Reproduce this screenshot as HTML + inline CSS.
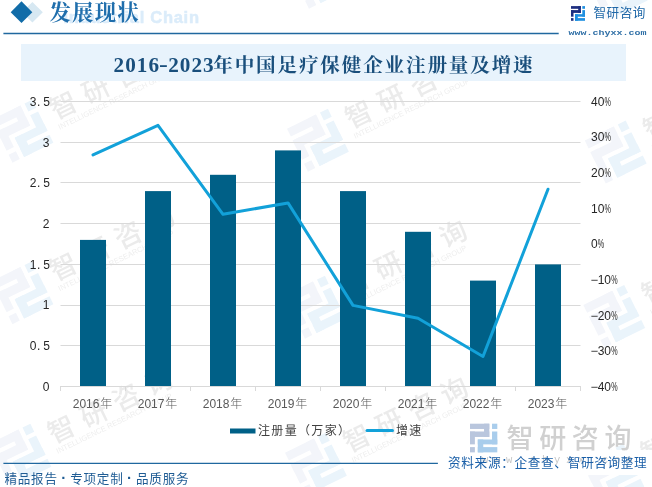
<!DOCTYPE html>
<html lang="zh-CN"><head><meta charset="utf-8"><title>2016-2023年中国足疗保健企业注册量及增速</title>
<style>
html,body{margin:0;padding:0;background:#fff}
body{width:652px;height:487px;position:relative;overflow:hidden;font-family:"Liberation Sans","Noto Sans CJK SC",sans-serif}
.abs{position:absolute;white-space:nowrap}
.band{left:21px;top:44px;width:605px;height:36.5px;background:#e8f3fc}
.hline{left:3px;top:32px;width:556px;height:2px;background:#2a70a8}
.fline{left:3px;top:462.5px;width:434px;height:1.6px;background:#2a70a8}
.h1{left:49.5px;top:-3.5px;letter-spacing:1.2px;font:bold 21.4px/32px "Liberation Serif","Noto Serif CJK SC",serif;color:#1f6eac}
.ic{left:63.5px;top:6px;letter-spacing:0.72px;-webkit-text-stroke:0.5px #dbecfa;font:bold 16.5px/22px "Liberation Sans",sans-serif;color:#dbecfa}
.title{left:113.5px;top:48px;font:600 21.2px/34px "Liberation Serif","Noto Serif CJK SC",serif;color:#1a4f7c}
.title .n{letter-spacing:1.05px;font-weight:bold}
.title .n b{position:relative;top:-1.5px;display:inline-block;transform:scaleX(1.25)}
.title .c{font-size:19.6px;letter-spacing:1.82px;margin-left:-1.5px;font-weight:bold}
.brand{left:593.5px;top:3.4px;letter-spacing:0.5px;font:12.6px/20px "Liberation Sans","Noto Sans CJK SC",sans-serif;color:#2068a8}
.url{left:568.5px;top:26px;font:bold 10px/14px "Liberation Mono",monospace;color:#2f6fa6;transform:scaleY(0.8);transform-origin:0 10.5px}
.foot{left:4.5px;top:468.6px;letter-spacing:0.7px;font:12.6px/20px "Liberation Sans","Noto Sans CJK SC",sans-serif;color:#1f5c94}
.foot i{display:inline-block;width:12.6px;text-align:center;font-style:normal;font-weight:bold;font-size:15px;line-height:12px}
.src{left:448px;top:453px;letter-spacing:0.7px;font:400 12.6px/20px "Liberation Sans","Noto Sans CJK SC",sans-serif;color:#1a5fa8}
</style></head><body>
<svg width="652" height="487" viewBox="0 0 652 487" style="position:absolute;left:0;top:0">
<g transform="translate(-8.5 119.7) rotate(-26)"><g transform="translate(0.00 0.00) scale(3.250)" ><rect x="0.00" y="0.00" width="9.90" height="2.70" fill="#f3f5fa"/><rect x="7.20" y="0.00" width="2.70" height="6.80" fill="#f3f5fa"/><rect x="0.00" y="4.00" width="9.90" height="2.80" fill="#f3f5fa"/><rect x="0.00" y="4.00" width="2.50" height="6.60" fill="#f3f5fa"/><rect x="0.00" y="12.00" width="2.50" height="2.70" fill="#f3f5fa"/><rect x="11.30" y="0.00" width="2.70" height="2.70" fill="#eaf4fb"/><rect x="11.30" y="4.00" width="2.70" height="6.60" fill="#eaf4fb"/><rect x="4.00" y="8.10" width="10.00" height="2.50" fill="#eaf4fb"/><rect x="4.00" y="8.10" width="2.80" height="6.60" fill="#eaf4fb"/><rect x="4.00" y="12.00" width="10.00" height="2.70" fill="#eaf4fb"/></g><text x="57.5" y="28.3" font-family="'Liberation Sans','Noto Sans CJK SC',sans-serif" font-size="27" font-weight="500" letter-spacing="9" fill="#ebebeb">智研咨询</text><text x="57" y="39" font-family="'Liberation Sans',sans-serif" font-size="7.5" textLength="128" fill="#eeeeee">INTELLIGENCE RESEARCH GROUP</text></g>
<g transform="translate(287.0 128.7) rotate(-26)"><g transform="translate(0.00 0.00) scale(3.250)" ><rect x="0.00" y="0.00" width="9.90" height="2.70" fill="#f3f5fa"/><rect x="7.20" y="0.00" width="2.70" height="6.80" fill="#f3f5fa"/><rect x="0.00" y="4.00" width="9.90" height="2.80" fill="#f3f5fa"/><rect x="0.00" y="4.00" width="2.50" height="6.60" fill="#f3f5fa"/><rect x="0.00" y="12.00" width="2.50" height="2.70" fill="#f3f5fa"/><rect x="11.30" y="0.00" width="2.70" height="2.70" fill="#eaf4fb"/><rect x="11.30" y="4.00" width="2.70" height="6.60" fill="#eaf4fb"/><rect x="4.00" y="8.10" width="10.00" height="2.50" fill="#eaf4fb"/><rect x="4.00" y="8.10" width="2.80" height="6.60" fill="#eaf4fb"/><rect x="4.00" y="12.00" width="10.00" height="2.70" fill="#eaf4fb"/></g><text x="57.5" y="28.3" font-family="'Liberation Sans','Noto Sans CJK SC',sans-serif" font-size="27" font-weight="500" letter-spacing="9" fill="#ebebeb">智研咨询</text><text x="57" y="39" font-family="'Liberation Sans',sans-serif" font-size="7.5" textLength="128" fill="#eeeeee">INTELLIGENCE RESEARCH GROUP</text></g>
<g transform="translate(584.8 140.5) rotate(-26)"><g transform="translate(0.00 0.00) scale(3.250)" ><rect x="0.00" y="0.00" width="9.90" height="2.70" fill="#f3f5fa"/><rect x="7.20" y="0.00" width="2.70" height="6.80" fill="#f3f5fa"/><rect x="0.00" y="4.00" width="9.90" height="2.80" fill="#f3f5fa"/><rect x="0.00" y="4.00" width="2.50" height="6.60" fill="#f3f5fa"/><rect x="0.00" y="12.00" width="2.50" height="2.70" fill="#f3f5fa"/><rect x="11.30" y="0.00" width="2.70" height="2.70" fill="#eaf4fb"/><rect x="11.30" y="4.00" width="2.70" height="6.60" fill="#eaf4fb"/><rect x="4.00" y="8.10" width="10.00" height="2.50" fill="#eaf4fb"/><rect x="4.00" y="8.10" width="2.80" height="6.60" fill="#eaf4fb"/><rect x="4.00" y="12.00" width="10.00" height="2.70" fill="#eaf4fb"/></g><text x="57.5" y="28.3" font-family="'Liberation Sans','Noto Sans CJK SC',sans-serif" font-size="27" font-weight="500" letter-spacing="9" fill="#ebebeb">智研咨询</text><text x="57" y="39" font-family="'Liberation Sans',sans-serif" font-size="7.5" textLength="128" fill="#eeeeee">INTELLIGENCE RESEARCH GROUP</text></g>
<g transform="translate(-8.5 281.2) rotate(-26)"><g transform="translate(0.00 0.00) scale(3.250)" ><rect x="0.00" y="0.00" width="9.90" height="2.70" fill="#f3f5fa"/><rect x="7.20" y="0.00" width="2.70" height="6.80" fill="#f3f5fa"/><rect x="0.00" y="4.00" width="9.90" height="2.80" fill="#f3f5fa"/><rect x="0.00" y="4.00" width="2.50" height="6.60" fill="#f3f5fa"/><rect x="0.00" y="12.00" width="2.50" height="2.70" fill="#f3f5fa"/><rect x="11.30" y="0.00" width="2.70" height="2.70" fill="#eaf4fb"/><rect x="11.30" y="4.00" width="2.70" height="6.60" fill="#eaf4fb"/><rect x="4.00" y="8.10" width="10.00" height="2.50" fill="#eaf4fb"/><rect x="4.00" y="8.10" width="2.80" height="6.60" fill="#eaf4fb"/><rect x="4.00" y="12.00" width="10.00" height="2.70" fill="#eaf4fb"/></g><text x="57.5" y="28.3" font-family="'Liberation Sans','Noto Sans CJK SC',sans-serif" font-size="27" font-weight="500" letter-spacing="9" fill="#ebebeb">智研咨询</text><text x="57" y="39" font-family="'Liberation Sans',sans-serif" font-size="7.5" textLength="128" fill="#eeeeee">INTELLIGENCE RESEARCH GROUP</text></g>
<g transform="translate(284.0 295.7) rotate(-26)"><g transform="translate(0.00 0.00) scale(3.250)" ><rect x="0.00" y="0.00" width="9.90" height="2.70" fill="#f3f5fa"/><rect x="7.20" y="0.00" width="2.70" height="6.80" fill="#f3f5fa"/><rect x="0.00" y="4.00" width="9.90" height="2.80" fill="#f3f5fa"/><rect x="0.00" y="4.00" width="2.50" height="6.60" fill="#f3f5fa"/><rect x="0.00" y="12.00" width="2.50" height="2.70" fill="#f3f5fa"/><rect x="11.30" y="0.00" width="2.70" height="2.70" fill="#eaf4fb"/><rect x="11.30" y="4.00" width="2.70" height="6.60" fill="#eaf4fb"/><rect x="4.00" y="8.10" width="10.00" height="2.50" fill="#eaf4fb"/><rect x="4.00" y="8.10" width="2.80" height="6.60" fill="#eaf4fb"/><rect x="4.00" y="12.00" width="10.00" height="2.70" fill="#eaf4fb"/></g><text x="57.5" y="28.3" font-family="'Liberation Sans','Noto Sans CJK SC',sans-serif" font-size="27" font-weight="500" letter-spacing="9" fill="#ebebeb">智研咨询</text><text x="57" y="39" font-family="'Liberation Sans',sans-serif" font-size="7.5" textLength="128" fill="#eeeeee">INTELLIGENCE RESEARCH GROUP</text></g>
<g transform="translate(583.3 304.9) rotate(-26)"><g transform="translate(0.00 0.00) scale(3.250)" ><rect x="0.00" y="0.00" width="9.90" height="2.70" fill="#f3f5fa"/><rect x="7.20" y="0.00" width="2.70" height="6.80" fill="#f3f5fa"/><rect x="0.00" y="4.00" width="9.90" height="2.80" fill="#f3f5fa"/><rect x="0.00" y="4.00" width="2.50" height="6.60" fill="#f3f5fa"/><rect x="0.00" y="12.00" width="2.50" height="2.70" fill="#f3f5fa"/><rect x="11.30" y="0.00" width="2.70" height="2.70" fill="#eaf4fb"/><rect x="11.30" y="4.00" width="2.70" height="6.60" fill="#eaf4fb"/><rect x="4.00" y="8.10" width="10.00" height="2.50" fill="#eaf4fb"/><rect x="4.00" y="8.10" width="2.80" height="6.60" fill="#eaf4fb"/><rect x="4.00" y="12.00" width="10.00" height="2.70" fill="#eaf4fb"/></g><text x="57.5" y="28.3" font-family="'Liberation Sans','Noto Sans CJK SC',sans-serif" font-size="27" font-weight="500" letter-spacing="9" fill="#ebebeb">智研咨询</text><text x="57" y="39" font-family="'Liberation Sans',sans-serif" font-size="7.5" textLength="128" fill="#eeeeee">INTELLIGENCE RESEARCH GROUP</text></g>
<g transform="translate(-10.5 443.7) rotate(-26)"><g transform="translate(0.00 0.00) scale(3.250)" ><rect x="0.00" y="0.00" width="9.90" height="2.70" fill="#f3f5fa"/><rect x="7.20" y="0.00" width="2.70" height="6.80" fill="#f3f5fa"/><rect x="0.00" y="4.00" width="9.90" height="2.80" fill="#f3f5fa"/><rect x="0.00" y="4.00" width="2.50" height="6.60" fill="#f3f5fa"/><rect x="0.00" y="12.00" width="2.50" height="2.70" fill="#f3f5fa"/><rect x="11.30" y="0.00" width="2.70" height="2.70" fill="#eaf4fb"/><rect x="11.30" y="4.00" width="2.70" height="6.60" fill="#eaf4fb"/><rect x="4.00" y="8.10" width="10.00" height="2.50" fill="#eaf4fb"/><rect x="4.00" y="8.10" width="2.80" height="6.60" fill="#eaf4fb"/><rect x="4.00" y="12.00" width="10.00" height="2.70" fill="#eaf4fb"/></g><text x="57.5" y="28.3" font-family="'Liberation Sans','Noto Sans CJK SC',sans-serif" font-size="27" font-weight="500" letter-spacing="9" fill="#ebebeb">智研咨询</text><text x="57" y="39" font-family="'Liberation Sans',sans-serif" font-size="7.5" textLength="128" fill="#eeeeee">INTELLIGENCE RESEARCH GROUP</text></g>
<g transform="translate(285.0 452.7) rotate(-26)"><g transform="translate(0.00 0.00) scale(3.250)" ><rect x="0.00" y="0.00" width="9.90" height="2.70" fill="#f3f5fa"/><rect x="7.20" y="0.00" width="2.70" height="6.80" fill="#f3f5fa"/><rect x="0.00" y="4.00" width="9.90" height="2.80" fill="#f3f5fa"/><rect x="0.00" y="4.00" width="2.50" height="6.60" fill="#f3f5fa"/><rect x="0.00" y="12.00" width="2.50" height="2.70" fill="#f3f5fa"/><rect x="11.30" y="0.00" width="2.70" height="2.70" fill="#eaf4fb"/><rect x="11.30" y="4.00" width="2.70" height="6.60" fill="#eaf4fb"/><rect x="4.00" y="8.10" width="10.00" height="2.50" fill="#eaf4fb"/><rect x="4.00" y="8.10" width="2.80" height="6.60" fill="#eaf4fb"/><rect x="4.00" y="12.00" width="10.00" height="2.70" fill="#eaf4fb"/></g><text x="57.5" y="28.3" font-family="'Liberation Sans','Noto Sans CJK SC',sans-serif" font-size="27" font-weight="500" letter-spacing="9" fill="#ebebeb">智研咨询</text><text x="57" y="39" font-family="'Liberation Sans',sans-serif" font-size="7.5" textLength="128" fill="#eeeeee">INTELLIGENCE RESEARCH GROUP</text></g>
<g transform="translate(582.5 463.7) rotate(-26)"><g transform="translate(0.00 0.00) scale(3.250)" ><rect x="0.00" y="0.00" width="9.90" height="2.70" fill="#f3f5fa"/><rect x="7.20" y="0.00" width="2.70" height="6.80" fill="#f3f5fa"/><rect x="0.00" y="4.00" width="9.90" height="2.80" fill="#f3f5fa"/><rect x="0.00" y="4.00" width="2.50" height="6.60" fill="#f3f5fa"/><rect x="0.00" y="12.00" width="2.50" height="2.70" fill="#f3f5fa"/><rect x="11.30" y="0.00" width="2.70" height="2.70" fill="#eaf4fb"/><rect x="11.30" y="4.00" width="2.70" height="6.60" fill="#eaf4fb"/><rect x="4.00" y="8.10" width="10.00" height="2.50" fill="#eaf4fb"/><rect x="4.00" y="8.10" width="2.80" height="6.60" fill="#eaf4fb"/><rect x="4.00" y="12.00" width="10.00" height="2.70" fill="#eaf4fb"/></g><text x="57.5" y="28.3" font-family="'Liberation Sans','Noto Sans CJK SC',sans-serif" font-size="27" font-weight="500" letter-spacing="9" fill="#ebebeb">智研咨询</text><text x="57" y="39" font-family="'Liberation Sans',sans-serif" font-size="7.5" textLength="128" fill="#eeeeee">INTELLIGENCE RESEARCH GROUP</text></g>
<g transform="translate(-7.5 -43.3) rotate(-26)"><g transform="translate(0.00 0.00) scale(3.250)" ><rect x="0.00" y="0.00" width="9.90" height="2.70" fill="#f3f5fa"/><rect x="7.20" y="0.00" width="2.70" height="6.80" fill="#f3f5fa"/><rect x="0.00" y="4.00" width="9.90" height="2.80" fill="#f3f5fa"/><rect x="0.00" y="4.00" width="2.50" height="6.60" fill="#f3f5fa"/><rect x="0.00" y="12.00" width="2.50" height="2.70" fill="#f3f5fa"/><rect x="11.30" y="0.00" width="2.70" height="2.70" fill="#eaf4fb"/><rect x="11.30" y="4.00" width="2.70" height="6.60" fill="#eaf4fb"/><rect x="4.00" y="8.10" width="10.00" height="2.50" fill="#eaf4fb"/><rect x="4.00" y="8.10" width="2.80" height="6.60" fill="#eaf4fb"/><rect x="4.00" y="12.00" width="10.00" height="2.70" fill="#eaf4fb"/></g><text x="57.5" y="28.3" font-family="'Liberation Sans','Noto Sans CJK SC',sans-serif" font-size="27" font-weight="500" letter-spacing="9" fill="#ebebeb">智研咨询</text><text x="57" y="39" font-family="'Liberation Sans',sans-serif" font-size="7.5" textLength="128" fill="#eeeeee">INTELLIGENCE RESEARCH GROUP</text></g>
<g transform="translate(288.0 -34.3) rotate(-26)"><g transform="translate(0.00 0.00) scale(3.250)" ><rect x="0.00" y="0.00" width="9.90" height="2.70" fill="#f3f5fa"/><rect x="7.20" y="0.00" width="2.70" height="6.80" fill="#f3f5fa"/><rect x="0.00" y="4.00" width="9.90" height="2.80" fill="#f3f5fa"/><rect x="0.00" y="4.00" width="2.50" height="6.60" fill="#f3f5fa"/><rect x="0.00" y="12.00" width="2.50" height="2.70" fill="#f3f5fa"/><rect x="11.30" y="0.00" width="2.70" height="2.70" fill="#eaf4fb"/><rect x="11.30" y="4.00" width="2.70" height="6.60" fill="#eaf4fb"/><rect x="4.00" y="8.10" width="10.00" height="2.50" fill="#eaf4fb"/><rect x="4.00" y="8.10" width="2.80" height="6.60" fill="#eaf4fb"/><rect x="4.00" y="12.00" width="10.00" height="2.70" fill="#eaf4fb"/></g><text x="57.5" y="28.3" font-family="'Liberation Sans','Noto Sans CJK SC',sans-serif" font-size="27" font-weight="500" letter-spacing="9" fill="#ebebeb">智研咨询</text><text x="57" y="39" font-family="'Liberation Sans',sans-serif" font-size="7.5" textLength="128" fill="#eeeeee">INTELLIGENCE RESEARCH GROUP</text></g>
<g transform="translate(585.8 -22.5) rotate(-26)"><g transform="translate(0.00 0.00) scale(3.250)" ><rect x="0.00" y="0.00" width="9.90" height="2.70" fill="#f3f5fa"/><rect x="7.20" y="0.00" width="2.70" height="6.80" fill="#f3f5fa"/><rect x="0.00" y="4.00" width="9.90" height="2.80" fill="#f3f5fa"/><rect x="0.00" y="4.00" width="2.50" height="6.60" fill="#f3f5fa"/><rect x="0.00" y="12.00" width="2.50" height="2.70" fill="#f3f5fa"/><rect x="11.30" y="0.00" width="2.70" height="2.70" fill="#eaf4fb"/><rect x="11.30" y="4.00" width="2.70" height="6.60" fill="#eaf4fb"/><rect x="4.00" y="8.10" width="10.00" height="2.50" fill="#eaf4fb"/><rect x="4.00" y="8.10" width="2.80" height="6.60" fill="#eaf4fb"/><rect x="4.00" y="12.00" width="10.00" height="2.70" fill="#eaf4fb"/></g><text x="57.5" y="28.3" font-family="'Liberation Sans','Noto Sans CJK SC',sans-serif" font-size="27" font-weight="500" letter-spacing="9" fill="#ebebeb">智研咨询</text><text x="57" y="39" font-family="'Liberation Sans',sans-serif" font-size="7.5" textLength="128" fill="#eeeeee">INTELLIGENCE RESEARCH GROUP</text></g>
<line x1="60.5" y1="386.5" x2="580.5" y2="386.5" stroke="#d9d9d9" stroke-width="1"/>
<line x1="60.5" y1="345.5" x2="580.5" y2="345.5" stroke="#d9d9d9" stroke-width="1"/>
<line x1="60.5" y1="305.5" x2="580.5" y2="305.5" stroke="#d9d9d9" stroke-width="1"/>
<line x1="60.5" y1="264.5" x2="580.5" y2="264.5" stroke="#d9d9d9" stroke-width="1"/>
<line x1="60.5" y1="223.5" x2="580.5" y2="223.5" stroke="#d9d9d9" stroke-width="1"/>
<line x1="60.5" y1="182.5" x2="580.5" y2="182.5" stroke="#d9d9d9" stroke-width="1"/>
<line x1="60.5" y1="142.5" x2="580.5" y2="142.5" stroke="#d9d9d9" stroke-width="1"/>
<line x1="60.5" y1="101.5" x2="580.5" y2="101.5" stroke="#d9d9d9" stroke-width="1"/>
<line x1="60.5" y1="386.0" x2="60.5" y2="391.0" stroke="#d9d9d9" stroke-width="1"/>
<line x1="125.5" y1="386.0" x2="125.5" y2="391.0" stroke="#d9d9d9" stroke-width="1"/>
<line x1="190.5" y1="386.0" x2="190.5" y2="391.0" stroke="#d9d9d9" stroke-width="1"/>
<line x1="255.5" y1="386.0" x2="255.5" y2="391.0" stroke="#d9d9d9" stroke-width="1"/>
<line x1="320.5" y1="386.0" x2="320.5" y2="391.0" stroke="#d9d9d9" stroke-width="1"/>
<line x1="385.5" y1="386.0" x2="385.5" y2="391.0" stroke="#d9d9d9" stroke-width="1"/>
<line x1="450.5" y1="386.0" x2="450.5" y2="391.0" stroke="#d9d9d9" stroke-width="1"/>
<line x1="515.5" y1="386.0" x2="515.5" y2="391.0" stroke="#d9d9d9" stroke-width="1"/>
<line x1="580.5" y1="386.0" x2="580.5" y2="391.0" stroke="#d9d9d9" stroke-width="1"/>
<rect x="80.0" y="239.9" width="26" height="146.1" fill="#006087"/>
<rect x="145.0" y="191.1" width="26" height="194.9" fill="#006087"/>
<rect x="210.0" y="174.8" width="26" height="211.2" fill="#006087"/>
<rect x="275.0" y="150.4" width="26" height="235.6" fill="#006087"/>
<rect x="340.0" y="191.1" width="26" height="194.9" fill="#006087"/>
<rect x="405.0" y="231.8" width="26" height="154.2" fill="#006087"/>
<rect x="470.0" y="280.6" width="26" height="105.4" fill="#006087"/>
<rect x="535.0" y="264.4" width="26" height="121.6" fill="#006087"/>
<polyline points="93.0,154.9 158.0,125.3 223.0,214.3 288.0,202.9 353.0,305.4 418.0,318.2 483.0,356.5 548.0,189.2" fill="none" stroke="#12a1d9" stroke-width="3" stroke-linejoin="round" stroke-linecap="round"/>
<text x="49.5" y="390.8" text-anchor="end" font-family="'Liberation Sans',sans-serif" font-size="12" fill="#262626">0</text>
<text x="29.8" y="350.1" font-family="'Liberation Sans',sans-serif" font-size="12" fill="#262626">0<tspan dx="0.6">.</tspan><tspan dx="2.8">5</tspan></text>
<text x="49.5" y="309.4" text-anchor="end" font-family="'Liberation Sans',sans-serif" font-size="12" fill="#262626">1</text>
<text x="29.8" y="268.7" font-family="'Liberation Sans',sans-serif" font-size="12" fill="#262626">1<tspan dx="0.6">.</tspan><tspan dx="2.8">5</tspan></text>
<text x="49.5" y="227.9" text-anchor="end" font-family="'Liberation Sans',sans-serif" font-size="12" fill="#262626">2</text>
<text x="29.8" y="187.2" font-family="'Liberation Sans',sans-serif" font-size="12" fill="#262626">2<tspan dx="0.6">.</tspan><tspan dx="2.8">5</tspan></text>
<text x="49.5" y="146.5" text-anchor="end" font-family="'Liberation Sans',sans-serif" font-size="12" fill="#262626">3</text>
<text x="29.8" y="105.8" font-family="'Liberation Sans',sans-serif" font-size="12" fill="#262626">3<tspan dx="0.6">.</tspan><tspan dx="2.8">5</tspan></text>
<text x="591.00" y="105.8" font-family="'Liberation Sans',sans-serif" font-size="12" fill="#262626">40</text>
<text transform="translate(604.54 105.8) scale(0.6 1)" font-family="'Liberation Sans',sans-serif" font-size="12" fill="#262626">%</text>
<text x="591.00" y="141.4" font-family="'Liberation Sans',sans-serif" font-size="12" fill="#262626">30</text>
<text transform="translate(604.54 141.4) scale(0.6 1)" font-family="'Liberation Sans',sans-serif" font-size="12" fill="#262626">%</text>
<text x="591.00" y="177.1" font-family="'Liberation Sans',sans-serif" font-size="12" fill="#262626">20</text>
<text transform="translate(604.54 177.1) scale(0.6 1)" font-family="'Liberation Sans',sans-serif" font-size="12" fill="#262626">%</text>
<text x="591.00" y="212.7" font-family="'Liberation Sans',sans-serif" font-size="12" fill="#262626">10</text>
<text transform="translate(604.54 212.7) scale(0.6 1)" font-family="'Liberation Sans',sans-serif" font-size="12" fill="#262626">%</text>
<text x="591.00" y="248.3" font-family="'Liberation Sans',sans-serif" font-size="12" fill="#262626">0</text>
<text transform="translate(597.87 248.3) scale(0.6 1)" font-family="'Liberation Sans',sans-serif" font-size="12" fill="#262626">%</text>
<text transform="translate(590.50 283.9) scale(1.08 1)" font-family="'Liberation Sans',sans-serif" font-size="12" fill="#262626">−</text>
<text x="597.67" y="283.9" font-family="'Liberation Sans',sans-serif" font-size="12" fill="#262626">10</text>
<text transform="translate(611.21 283.9) scale(0.6 1)" font-family="'Liberation Sans',sans-serif" font-size="12" fill="#262626">%</text>
<text transform="translate(590.50 319.6) scale(1.08 1)" font-family="'Liberation Sans',sans-serif" font-size="12" fill="#262626">−</text>
<text x="597.67" y="319.6" font-family="'Liberation Sans',sans-serif" font-size="12" fill="#262626">20</text>
<text transform="translate(611.21 319.6) scale(0.6 1)" font-family="'Liberation Sans',sans-serif" font-size="12" fill="#262626">%</text>
<text transform="translate(590.50 355.2) scale(1.08 1)" font-family="'Liberation Sans',sans-serif" font-size="12" fill="#262626">−</text>
<text x="597.67" y="355.2" font-family="'Liberation Sans',sans-serif" font-size="12" fill="#262626">30</text>
<text transform="translate(611.21 355.2) scale(0.6 1)" font-family="'Liberation Sans',sans-serif" font-size="12" fill="#262626">%</text>
<text transform="translate(590.50 390.8) scale(1.08 1)" font-family="'Liberation Sans',sans-serif" font-size="12" fill="#262626">−</text>
<text x="597.67" y="390.8" font-family="'Liberation Sans',sans-serif" font-size="12" fill="#262626">40</text>
<text transform="translate(611.21 390.8) scale(0.6 1)" font-family="'Liberation Sans',sans-serif" font-size="12" fill="#262626">%</text>
<text x="92.5" y="408" text-anchor="middle" font-family="'Liberation Sans','Noto Sans CJK SC',sans-serif" font-size="12" fill="#595959">2016<tspan font-size="12" dx="0.8" font-weight="300">年</tspan></text>
<text x="157.5" y="408" text-anchor="middle" font-family="'Liberation Sans','Noto Sans CJK SC',sans-serif" font-size="12" fill="#595959">2017<tspan font-size="12" dx="0.8" font-weight="300">年</tspan></text>
<text x="222.5" y="408" text-anchor="middle" font-family="'Liberation Sans','Noto Sans CJK SC',sans-serif" font-size="12" fill="#595959">2018<tspan font-size="12" dx="0.8" font-weight="300">年</tspan></text>
<text x="287.5" y="408" text-anchor="middle" font-family="'Liberation Sans','Noto Sans CJK SC',sans-serif" font-size="12" fill="#595959">2019<tspan font-size="12" dx="0.8" font-weight="300">年</tspan></text>
<text x="352.5" y="408" text-anchor="middle" font-family="'Liberation Sans','Noto Sans CJK SC',sans-serif" font-size="12" fill="#595959">2020<tspan font-size="12" dx="0.8" font-weight="300">年</tspan></text>
<text x="417.5" y="408" text-anchor="middle" font-family="'Liberation Sans','Noto Sans CJK SC',sans-serif" font-size="12" fill="#595959">2021<tspan font-size="12" dx="0.8" font-weight="300">年</tspan></text>
<text x="482.5" y="408" text-anchor="middle" font-family="'Liberation Sans','Noto Sans CJK SC',sans-serif" font-size="12" fill="#595959">2022<tspan font-size="12" dx="0.8" font-weight="300">年</tspan></text>
<text x="547.5" y="408" text-anchor="middle" font-family="'Liberation Sans','Noto Sans CJK SC',sans-serif" font-size="12" fill="#595959">2023<tspan font-size="12" dx="0.8" font-weight="300">年</tspan></text>
<rect x="230" y="428.5" width="25.5" height="5" fill="#006087"/>
<text x="258" y="435" font-family="'Liberation Sans','Noto Sans CJK SC',sans-serif" font-size="12" letter-spacing="1.33" font-weight="400" fill="#404040">注册量（万家）</text>
<line x1="367" y1="430.5" x2="392.5" y2="430.5" stroke="#12a1d9" stroke-width="3" stroke-linecap="round"/>
<text x="396" y="435" font-family="'Liberation Sans','Noto Sans CJK SC',sans-serif" font-size="12" letter-spacing="1.33" font-weight="400" fill="#404040">增速</text>
<line x1="3.4" y1="33.5" x2="558.7" y2="33.5" stroke="#20689f" stroke-width="1.4"/>
<line x1="3.4" y1="463.4" x2="437.9" y2="463.4" stroke="#20689f" stroke-width="1.35"/>
<g transform="translate(571.00 6.10) scale(1.000)" ><rect x="0.00" y="0.00" width="9.90" height="2.70" fill="#1e2f80"/><rect x="7.20" y="0.00" width="2.70" height="6.80" fill="#1e2f80"/><rect x="0.00" y="4.00" width="9.90" height="2.80" fill="#1e2f80"/><rect x="0.00" y="4.00" width="2.50" height="6.60" fill="#1e2f80"/><rect x="0.00" y="12.00" width="2.50" height="2.70" fill="#1e2f80"/><rect x="11.30" y="0.00" width="2.70" height="2.70" fill="#1f8fe0"/><rect x="11.30" y="4.00" width="2.70" height="6.60" fill="#1f8fe0"/><rect x="4.00" y="8.10" width="10.00" height="2.50" fill="#1f8fe0"/><rect x="4.00" y="8.10" width="2.80" height="6.60" fill="#1f8fe0"/><rect x="4.00" y="12.00" width="10.00" height="2.70" fill="#1f8fe0"/></g>
<polygon points="32.4,2 42.8,12.3 32.4,22.6 22,12.3" fill="#d7e8f2"/>
<polygon points="21.5,1.3 32.3,12.2 21.5,23.1 10.7,12.2" fill="#116ca8"/>
<rect x="440" y="450" width="212" height="25" fill="#ffffff"/>
<g transform="translate(470.00 423.70) scale(1.950)" ><rect x="0.00" y="0.00" width="9.90" height="2.70" fill="#b9c6dd"/><rect x="7.20" y="0.00" width="2.70" height="6.80" fill="#b9c6dd"/><rect x="0.00" y="4.00" width="9.90" height="2.80" fill="#b9c6dd"/><rect x="0.00" y="4.00" width="2.50" height="6.60" fill="#b9c6dd"/><rect x="0.00" y="12.00" width="2.50" height="2.70" fill="#b9c6dd"/><rect x="11.30" y="0.00" width="2.70" height="2.70" fill="#a9cdec"/><rect x="11.30" y="4.00" width="2.70" height="6.60" fill="#a9cdec"/><rect x="4.00" y="8.10" width="10.00" height="2.50" fill="#a9cdec"/><rect x="4.00" y="8.10" width="2.80" height="6.60" fill="#a9cdec"/><rect x="4.00" y="12.00" width="10.00" height="2.70" fill="#a9cdec"/></g>
<text x="506.6" y="447.5" font-family="'Liberation Sans','Noto Sans CJK SC',sans-serif" font-size="27" font-weight="500" letter-spacing="5.6" fill="#d0d0d0">智研咨询</text>
<text x="482" y="462.5" font-family="'Liberation Mono',monospace" font-size="10.5" letter-spacing="5.7" fill="#c6c6c6">www.chyxx.com</text>
</svg>
<div class="abs band"></div>
<div class="abs ic">Industrial Chain</div>
<div class="abs h1">发展现状</div>
<div class="abs title"><span class="n">2016<b>-</b>2023</span><span class="c">年中国足疗保健企业注册量及增速</span></div>
<div class="abs brand">智研咨询</div>
<div class="abs url">www.chyxx.com</div>
<div class="abs foot">精品报告<i>·</i>专项定制<i>·</i>品质服务</div>
<div class="abs src">资料来源：企查查、智研咨询整理</div>
</body></html>
